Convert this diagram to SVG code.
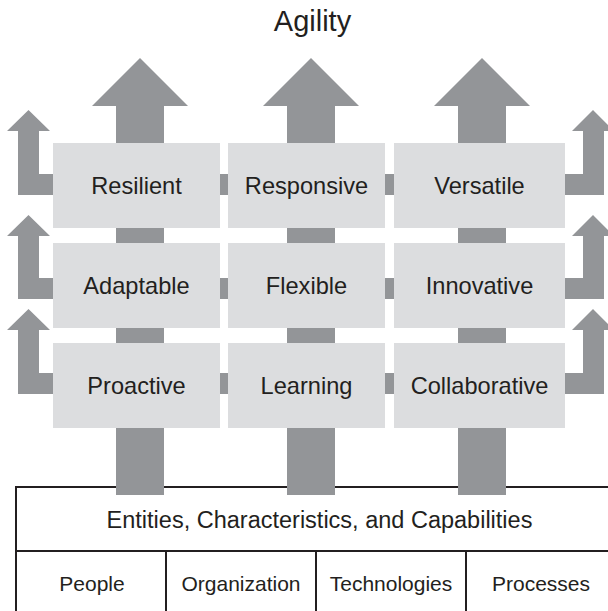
<svg xmlns="http://www.w3.org/2000/svg" width="608" height="611" viewBox="0 0 608 611">
<style>
  .arrow { fill: #939598; }
  .box { fill: #dcdddf; }
  .lbl { font-family: "Liberation Sans", Arial, sans-serif; font-size: 23.6px; fill: #231f20; text-anchor: middle; }
  .base { font-family: "Liberation Sans", Arial, sans-serif; fill: #231f20; text-anchor: middle; }
  .line { fill: none; stroke: #231f20; stroke-width: 2; }
</style>
<rect width="608" height="611" fill="#ffffff"/>

<g id="title">
  <text class="base" x="312.5" y="31" font-size="29">Agility</text>
</g>

<g id="foundation">
  <rect class="line" x="16" y="487" width="600" height="140"/>
  <line class="line" x1="16" y1="551" x2="616" y2="551"/>
  <line class="line" x1="166" y1="551" x2="166" y2="627"/>
  <line class="line" x1="316" y1="551" x2="316" y2="627"/>
  <line class="line" x1="466" y1="551" x2="466" y2="627"/>
  <text class="base" x="319.5" y="528" font-size="23.5">Entities, Characteristics, and Capabilities</text>
  <text class="base" x="92" y="591" font-size="21">People</text>
  <text class="base" x="241" y="591" font-size="21">Organization</text>
  <text class="base" x="391" y="591" font-size="21">Technologies</text>
  <text class="base" x="541" y="591" font-size="21">Processes</text>
</g>

<g id="connectors">
  <polygon class="arrow" points="140,58 188,106 164,106 164,495 116,495 116,106 92,106"/>
  <polygon class="arrow" points="311,58 359,106 335,106 335,495 287,495 287,106 263,106"/>
  <polygon class="arrow" points="482,58 530,106 506,106 506,495 458,495 458,106 434,106"/>
  <polygon class="arrow" points="28.5,110 50,131 39,131 39,174 583,174 583,131 572,131 593,110 614,131 604,131 604,195 18,195 18,131 7,131"/>
  <polygon class="arrow" points="28.5,215 50,236 39,236 39,278 583,278 583,236 572,236 593,215 614,236 604,236 604,299 18,299 18,236 7,236"/>
  <polygon class="arrow" points="28.5,309 50,330 39,330 39,373 583,373 583,330 572,330 593,309 614,330 604,330 604,394 18,394 18,330 7,330"/>
</g>

<g id="resilient"><rect class="box" x="53" y="143" width="167" height="85"/><text class="lbl" x="136.5" y="193.5">Resilient</text></g>
<g id="responsive"><rect class="box" x="228" y="143" width="157" height="85"/><text class="lbl" x="306.5" y="193.5">Responsive</text></g>
<g id="versatile"><rect class="box" x="394" y="143" width="171" height="85"/><text class="lbl" x="479.5" y="193.5">Versatile</text></g>

<g id="adaptable"><rect class="box" x="53" y="243" width="167" height="85"/><text class="lbl" x="136.5" y="293.5">Adaptable</text></g>
<g id="flexible"><rect class="box" x="228" y="243" width="157" height="85"/><text class="lbl" x="306.5" y="293.5">Flexible</text></g>
<g id="innovative"><rect class="box" x="394" y="243" width="171" height="85"/><text class="lbl" x="479.5" y="293.5">Innovative</text></g>

<g id="proactive"><rect class="box" x="53" y="343" width="167" height="85"/><text class="lbl" x="136.5" y="393.5">Proactive</text></g>
<g id="learning"><rect class="box" x="228" y="343" width="157" height="85"/><text class="lbl" x="306.5" y="393.5">Learning</text></g>
<g id="collaborative"><rect class="box" x="394" y="343" width="171" height="85"/><text class="lbl" x="479.5" y="393.5">Collaborative</text></g>
</svg>
